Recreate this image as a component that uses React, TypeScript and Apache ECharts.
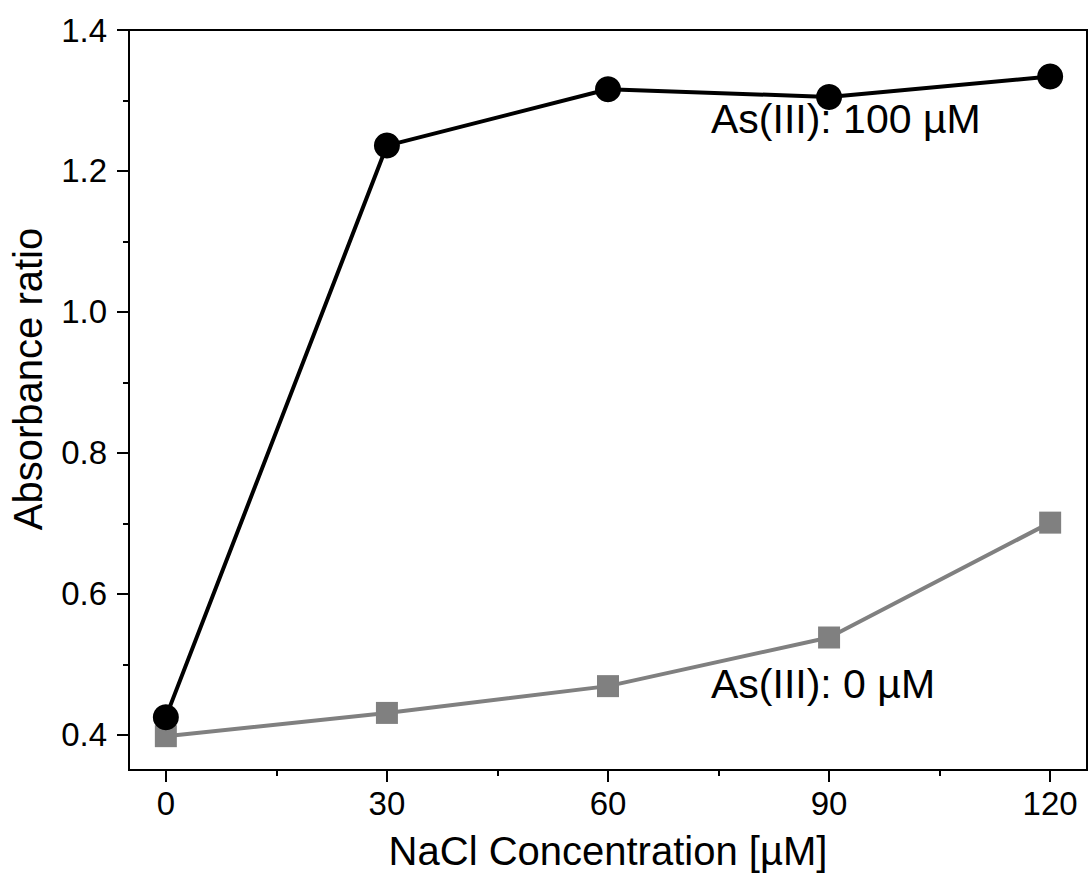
import React, { useEffect, useRef } from "react";
import * as echarts from "echarts";

const nacl = [0, 30, 60, 90, 120];
const as100 = [0.425, 1.236, 1.316, 1.305, 1.334];
const as0 = [0.398, 0.431, 0.469, 0.538, 0.701];
const xMajorTicks = [0, 30, 60, 90, 120];
const xMinorTicks = [15, 45, 75, 105];
const yMajorTicks = [0.4, 0.6, 0.8, 1.0, 1.2, 1.4];
const yMinorTicks = [0.5, 0.7, 0.9, 1.1, 1.3];

const FONT = "Liberation Sans, Arial, sans-serif";

export default function App() {
  const ref = useRef<HTMLDivElement>(null);
  useEffect(() => {
    if (!ref.current) return;
    const chart = echarts.init(ref.current, undefined, { renderer: "svg" });
    const axisLine = { show: true, onZero: false, lineStyle: { color: "#000", width: 2 } };
    chart.setOption({
      animation: false,
      backgroundColor: "#fff",
      grid: {
        left: 129,
        right: 2,
        top: 30,
        bottom: 106,
        show: true,
        borderColor: "#000",
        borderWidth: 2,
        backgroundColor: "transparent",
      },
      xAxis: [
        {
          type: "value",
          min: -5,
          max: 125,
          position: "bottom",
          name: "NaCl Concentration [µM]",
          nameLocation: "middle",
          nameGap: 61,
          nameTextStyle: { fontFamily: FONT, fontSize: 40, color: "#000" },
          axisLine,
          splitLine: { show: false },
          axisTick: { show: true, inside: false, length: 12, lineStyle: { color: "#000", width: 2 }, customValues: xMajorTicks },
          axisLabel: { show: true, margin: 17, fontFamily: FONT, fontSize: 33, color: "#000", customValues: xMajorTicks },
        },
        {
          type: "value",
          min: -5,
          max: 125,
          position: "bottom",
          axisLine: { show: false, onZero: false },
          splitLine: { show: false },
          axisTick: { show: true, inside: false, length: 6, lineStyle: { color: "#000", width: 2 }, customValues: xMinorTicks },
          axisLabel: { show: false },
        },
      ],
      yAxis: [
        {
          type: "value",
          min: 0.35,
          max: 1.4,
          position: "left",
          axisLine,
          splitLine: { show: false },
          axisTick: { show: true, inside: false, length: 12, lineStyle: { color: "#000", width: 2 }, customValues: yMajorTicks },
          axisLabel: {
            show: true,
            margin: 22,
            fontFamily: FONT,
            fontSize: 33,
            color: "#000",
            customValues: yMajorTicks,
            formatter: (v: number) => v.toFixed(1),
          },
        },
        {
          type: "value",
          min: 0.35,
          max: 1.4,
          position: "left",
          axisLine: { show: false, onZero: false },
          splitLine: { show: false },
          axisTick: { show: true, inside: false, length: 6, lineStyle: { color: "#000", width: 2 }, customValues: yMinorTicks },
          axisLabel: { show: false },
        },
      ],
      series: [
        {
          type: "line",
          name: "As(III): 0 µM",
          xAxisIndex: 0,
          yAxisIndex: 0,
          data: nacl.map((x, i) => [x, as0[i]]),
          symbol: "rect",
          symbolSize: 22,
          color: "#808080",
          itemStyle: { color: "#808080" },
          lineStyle: { color: "#808080", width: 4 },
          z: 3,
        },
        {
          type: "line",
          name: "As(III): 100 µM",
          xAxisIndex: 0,
          yAxisIndex: 0,
          data: nacl.map((x, i) => [x, as100[i]]),
          symbol: "circle",
          symbolSize: 26,
          color: "#000",
          itemStyle: { color: "#000" },
          lineStyle: { color: "#000", width: 4 },
          z: 4,
        },
      ],
      graphic: [
        {
          type: "text",
          x: 28,
          y: 379,
          rotation: Math.PI / 2,
          style: {
            text: "Absorbance ratio",
            fontFamily: FONT,
            fontSize: 40,
            fill: "#000",
            textAlign: "center",
            textVerticalAlign: "middle",
          },
        },
        {
          type: "text",
          x: 711,
          y: 139,
          style: {
            text: "As(III): 100 µM",
            fontFamily: FONT,
            fontSize: 41,
            fill: "#000",
            textAlign: "left",
            textVerticalAlign: "bottom",
          },
        },
        {
          type: "text",
          x: 711,
          y: 704,
          style: {
            text: "As(III): 0 µM",
            fontFamily: FONT,
            fontSize: 41,
            fill: "#000",
            textAlign: "left",
            textVerticalAlign: "bottom",
          },
        },
      ],
    });
    return () => chart.dispose();
  }, []);
  return (
    <div
      ref={ref}
      style={{ position: "fixed", left: 0, top: 0, width: 1089, height: 876, background: "#fff" }}
    />
  );
}
